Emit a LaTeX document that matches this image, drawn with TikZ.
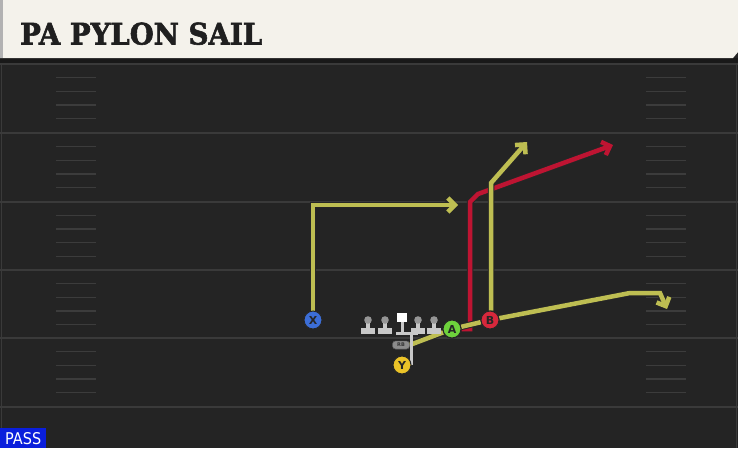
\documentclass[tikz,border=0pt]{standalone}
\usepackage{fontspec}
\usepackage{graphicx}
\usetikzlibrary{arrows.meta}
\newfontfamily\titlefont{DejaVu Serif}[FakeBold=2]
\newfontfamily\labelfont{DejaVu Sans}
\definecolor{header}{RGB}{244,242,235}
\definecolor{field}{RGB}{36,36,36}
\definecolor{yardline}{RGB}{58,58,58}
\definecolor{hashmark}{RGB}{60,60,60}
\definecolor{routeyellow}{RGB}{190,190,82}
\definecolor{routered}{RGB}{190,20,50}
\definecolor{xblue}{RGB}{60,110,215}
\definecolor{agreen}{RGB}{110,210,60}
\definecolor{bred}{RGB}{215,40,60}
\definecolor{yyellow}{RGB}{235,195,40}
\definecolor{blockgray}{RGB}{200,200,200}
\definecolor{passblue}{RGB}{10,30,220}

\begin{document}
\begin{tikzpicture}[x=1pt,y=-1pt,
    route/.style={line width=4.5pt, preaction={draw=black!85, line width=6.5pt}},
    tip/.style={-{Straight Barb[length=7pt,width=14pt]}},
    player/.style={circle, draw=black!85, line width=1pt, minimum size=18pt, inner sep=0pt,
      font=\labelfont\bfseries\fontsize{11}{11}\selectfont, text=black!85},
    rbtag/.style={fill=black!45, draw=black!70, rounded corners=3pt, minimum width=17pt, minimum height=8pt,
      inner sep=0pt, font=\labelfont\bfseries\fontsize{5}{5}\selectfont, text=black!80},
    block/.style={draw=blockgray, line width=3pt}]
    \useasboundingbox (0,0) rectangle (738,448);
    \fill[field] (0,0) rectangle (738,448);
    \fill[black!90] (0,58) rectangle (738,63);
    \fill[header] (0,0) -- (738,0) -- (738,52) -- (733,58) -- (0,58) -- cycle;
    \fill[black!30] (0,0) rectangle (3,58);
    \node[anchor=base west, inner sep=0pt, text=black!88] (title) at (20,44.5)
        {\resizebox{242pt}{22pt}{\titlefont\bfseries PA PYLON SAIL}};
    \draw[yardline, line width=1pt] (1,63) -- (1,448) (736,63) -- (736,448);
    \foreach \y in {64,133,201.5,270,338,407}
        \draw[yardline, line width=2pt] (0,\y) -- (738,\y);
    \foreach \y in {64,133,201.5,270,338}
        \foreach \k in {1,2,3,4}
            \draw[hashmark, line width=1.3pt] (56,\y+\k*13.7) -- (96,\y+\k*13.7)
                (646,\y+\k*13.7) -- (686,\y+\k*13.7);
    \node[player, fill=xblue] (X) at (313,320) {X};
    \node[player, fill=agreen] (A) at (452,329) {A};
    \node[player, fill=bred] (B) at (490,320) {B};
    \node[player, fill=yyellow] (Y) at (402,365) {Y};
    \node[rbtag] (RB) at (401,345) {RB};
    \coordinate (xturn) at (313,205);
    \coordinate (xend) at (458,205);
    \coordinate (rbase) at (470,329);
    \coordinate (rturn) at (470,202);
    \coordinate (rbend) at (478,194);
    \coordinate (rend) at (613,145);
    \coordinate (bturn) at (491,183);
    \coordinate (bend) at (527,142);
    \coordinate (fturn) at (630,293);
    \coordinate (fbend) at (660,293);
    \coordinate (fend) at (667,309);
    \coordinate (blk) at (411,333);
    \draw[route, tip, routeyellow] (X) -- (xturn) -- (xend);
    \draw[route, tip, routered] (A.east) -- (rbase) -- (rturn) -- (rbend) -- (rend);
    \draw[route, tip, routeyellow] (B.north) ++(1,0) -- (bturn) -- (bend);
    \draw[route, tip, routeyellow] (RB.east) -- (A) -- (B) -- (fturn) -- (fbend) -- (fend);
    \draw[block] (396,333) -- (418,333) (402,322) -- (402,333) (blk) -- (blk |- Y.center);
    \foreach \px in {368,385,418,434} {
        \fill[blockgray] (\px-7,328) rectangle (\px+7,334);
        \fill[blockgray] (\px-2,320) rectangle (\px+2,329);
        \fill[blockgray!75!black] (\px,320) circle (3.8pt);
    }
    \fill[white] (397,313) rectangle (407,322);
    \node[player, fill=xblue] at (X) {X};
    \node[player, fill=agreen] at (A) {A};
    \node[player, fill=bred] at (B) {B};
    \node[player, fill=yyellow] at (Y) {Y};
    \node[rbtag] at (RB) {RB};
    \fill[passblue] (0,428) rectangle (46,448);
    \node[anchor=base west, inner sep=0pt, text=white] (pass) at (5,444)
        {\resizebox{36pt}{12pt}{\labelfont PASS}};
\end{tikzpicture}
\end{document}
